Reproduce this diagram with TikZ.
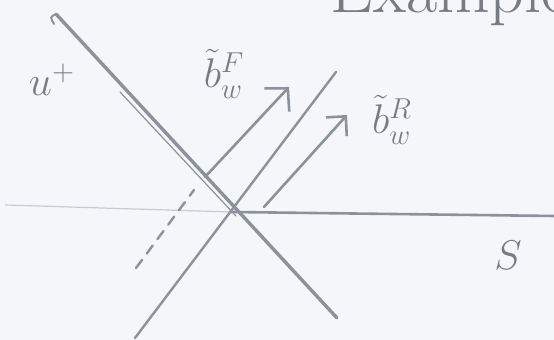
\documentclass[tikz,border=0pt]{standalone}
\usepackage{tikz}
\usetikzlibrary{arrows.meta}
\definecolor{pencil}{HTML}{8C929B}
\definecolor{pencilLight}{HTML}{CBC8D4}
\definecolor{paper}{HTML}{F5F6FA}

\begin{document}
\begin{tikzpicture}[x=0.5pt,y=-0.5pt,font=\huge,
  stroke/.style={pencil, line width=1.2pt, line cap=round},
  vec/.style={stroke, line width=1.3pt, -{Straight Barb[length=8pt,width=17pt]}},
  lbl/.style={pencil!85!black}]
\fill[paper] (0,0) rectangle (554,340);
\useasboundingbox (0,0) rectangle (554,340);
\clip (0,0) rectangle (554,340);
% surface S
\coordinate (sL) at (5,205);
\coordinate (O) at (231,212);
\coordinate (sR) at (554,216);
\draw[pencilLight, line width=0.6pt] (sL) -- (O);
\draw[stroke, line width=1.3pt] (O) -- (sR);
% u+ line (drawn twice near the crossing)
\coordinate (uTop) at (56,14);
\coordinate (uBot) at (337,318);
\draw[stroke, line width=1.7pt] (uTop) -- (uBot);
\draw[stroke, line width=0.6pt] (120,92) -- (236,216);
\draw[stroke, line width=1pt] (uTop) .. controls (50,17) .. (54,24);
% rising line and its dashed twin
\coordinate (vBot) at (135,338);
\coordinate (vTop) at (336,72);
\draw[stroke] (vBot) -- (vTop);
\coordinate (dBot) at (136,268);
\coordinate (dTop) at (194,190);
\draw[stroke, dash pattern=on 5pt off 4pt] (dBot) -- (dTop);
% the two vectors
\coordinate (fTail) at (205,177);
\coordinate (fTip) at (289,87);
\draw[vec] (fTail) -- (fTip);
\coordinate (rTail) at (264,207);
\coordinate (rTip) at (347,115);
\draw[vec, -{Straight Barb[length=7pt,width=14pt]}] (rTail) -- (rTip);
% labels
\node[lbl] (uLbl) at (52,80) {$u^{+}$};
\node[lbl] (fLbl) at (224,74) {$\tilde{b}^{F}_{w}$};
\node[lbl] (rLbl) at (392,120) {$\tilde{b}^{R}_{w}$};
\node[lbl] (sLbl) at (508,255) {$S$};
\node[lbl, font=\fontsize{34}{38}\selectfont, anchor=base west, inner sep=0pt] (title) at (330,13) {Example};
\end{tikzpicture}
\end{document}
